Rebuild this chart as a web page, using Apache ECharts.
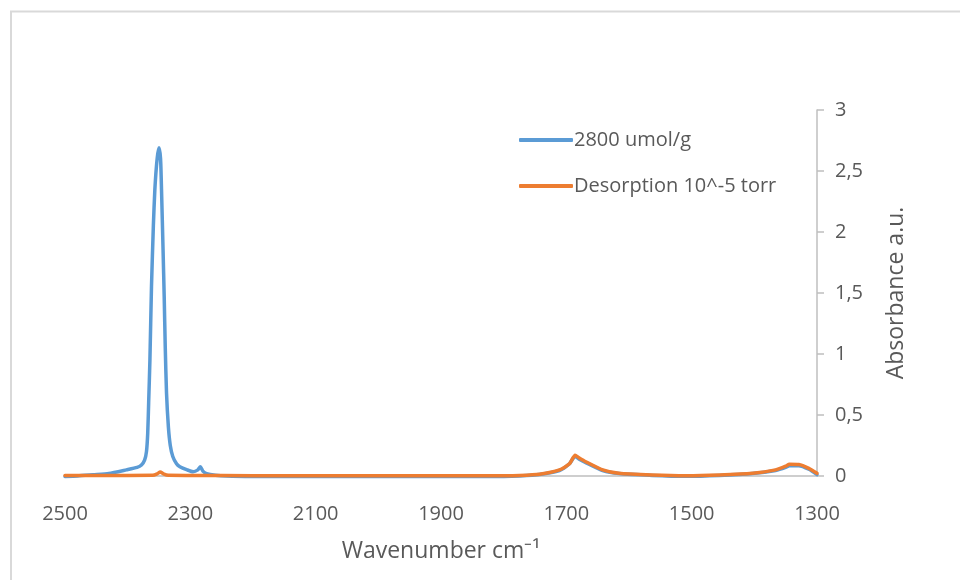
<!DOCTYPE html>
<html>
<head>
<meta charset="utf-8">
<script src="https://cdn.jsdelivr.net/npm/echarts@6/dist/echarts.min.js"></script>
<style>
html,body{margin:0;padding:0;background:#fff;}
#chart{width:960px;height:580px;}
</style>
</head>
<body>
<div id="chart"></div>
<script>
// ---- data ----
const seriesNames = ['2800 umol/g', 'Desorption 10^-5 torr'];

const blueWavenumber = [2500, 2480, 2455, 2430, 2402, 2385, 2378, 2373, 2370, 2368, 2366.5, 2364.5, 2362, 2359, 2356.6, 2353, 2350, 2347.5, 2346, 2343.5, 2341.7, 2340, 2338, 2335, 2332, 2328, 2322, 2316.7, 2305, 2295.6, 2288, 2284, 2280, 2274, 2260, 2242, 2200, 2100, 2000, 1900, 1800, 1775, 1743, 1711, 1695, 1686, 1680, 1669, 1642, 1616, 1563, 1509, 1456, 1403, 1366, 1350, 1344, 1329, 1313, 1300];
const blueAbsorbance = [-0.004, 0, 0.01, 0.02, 0.05, 0.07, 0.09, 0.13, 0.2, 0.35, 0.6, 0.95, 1.55, 2.05, 2.35, 2.6, 2.69, 2.6, 2.35, 1.85, 1.47, 1.05, 0.68, 0.4, 0.25, 0.16, 0.1, 0.076, 0.05, 0.035, 0.05, 0.076, 0.04, 0.02, 0.007, 0, -0.004, -0.005, -0.005, -0.005, -0.004, 0, 0.012, 0.045, 0.1, 0.162, 0.14, 0.11, 0.045, 0.02, 0.005, -0.002, 0.005, 0.02, 0.045, 0.07, 0.085, 0.085, 0.055, 0.012];

const orangeWavenumber = [2500, 2400, 2360, 2353, 2348, 2343, 2335, 2300, 2200, 2000, 1800, 1775, 1743, 1711, 1695, 1686, 1680, 1669, 1642, 1616, 1563, 1509, 1456, 1403, 1366, 1350, 1344, 1329, 1313, 1300];
const orangeAbsorbance = [0.005, 0.005, 0.006, 0.018, 0.033, 0.018, 0.006, 0.005, 0.003, 0.002, 0.003, 0.005, 0.015, 0.05, 0.1, 0.17, 0.15, 0.117, 0.05, 0.022, 0.008, 0.002, 0.008, 0.022, 0.05, 0.08, 0.096, 0.094, 0.063, 0.022];

const xTickLabels = ['2500', '2300', '2100', '1900', '1700', '1500', '1300'];
const yTickLabels = ['0', '0,5', '1', '1,5', '2', '2,5', '3'];

const pair = (xs, ys) => xs.map((x, i) => [x, ys[i]]);

const textColor = '#595959';
const font = '"Open Sans", "Liberation Sans", sans-serif';

const chart = echarts.init(document.getElementById('chart'));
chart.setOption({
  backgroundColor: '#ffffff',
  animation: false,
  graphic: [
    { type: 'polyline', shape: { points: [[11, 580], [11, 11.5], [960, 11.5]] }, style: { stroke: '#d9d9d9', lineWidth: 2, fill: null } }
  ],
  grid: { left: 65, right: 143, top: 110, bottom: 104, containLabel: false },
  legend: {
    orient: 'vertical',
    left: 514,
    top: 125,
    icon: 'roundRect',
    itemWidth: 54,
    itemHeight: 4,
    itemGap: 26,
    textStyle: { color: textColor, fontSize: 20, fontFamily: font, padding: [0, 0, 0, -4] },
    data: seriesNames
  },
  xAxis: {
    type: 'value',
    inverse: true,
    min: 1300,
    max: 2500,
    interval: 100,
    axisLine: { show: true, lineStyle: { color: '#bfbfbf', width: 1.5 } },
    axisTick: { show: false },
    splitLine: { show: false },
    axisLabel: {
      color: textColor, fontSize: 20, fontFamily: font, margin: 28,
      formatter: v => xTickLabels.includes(String(v)) ? String(v) : ''
    },
    name: 'Wavenumber cm⁻¹',
    nameLocation: 'middle',
    nameGap: 64,
    nameTextStyle: { color: textColor, fontSize: 23, fontFamily: font }
  },
  yAxis: {
    type: 'value',
    position: 'right',
    min: 0,
    max: 3,
    interval: 0.5,
    axisLine: { show: true, lineStyle: { color: '#bfbfbf', width: 1.5 } },
    axisTick: { show: true, inside: false, length: 7, lineStyle: { color: '#bfbfbf', width: 1.5 } },
    splitLine: { show: false },
    axisLabel: {
      color: textColor, fontSize: 20, fontFamily: font, margin: 18,
      formatter: v => yTickLabels[Math.round(v * 2)]
    },
    name: 'Absorbance a.u.',
    nameLocation: 'middle',
    nameGap: 68,
    nameTextStyle: { color: textColor, fontSize: 23, fontFamily: font }
  },
  series: [
    {
      name: seriesNames[0], type: 'line', symbol: 'none', smooth: 0.2, clip: false,
      lineStyle: { color: '#5b9bd5', width: 3.5, join: 'round', cap: 'round' }, itemStyle: { color: '#5b9bd5' },
      data: pair(blueWavenumber, blueAbsorbance)
    },
    {
      name: seriesNames[1], type: 'line', symbol: 'none', smooth: 0.2, clip: false,
      lineStyle: { color: '#ed7d31', width: 3.5, join: 'round', cap: 'round' }, itemStyle: { color: '#ed7d31' },
      data: pair(orangeWavenumber, orangeAbsorbance)
    }
  ]
});
</script>
</body>
</html>
